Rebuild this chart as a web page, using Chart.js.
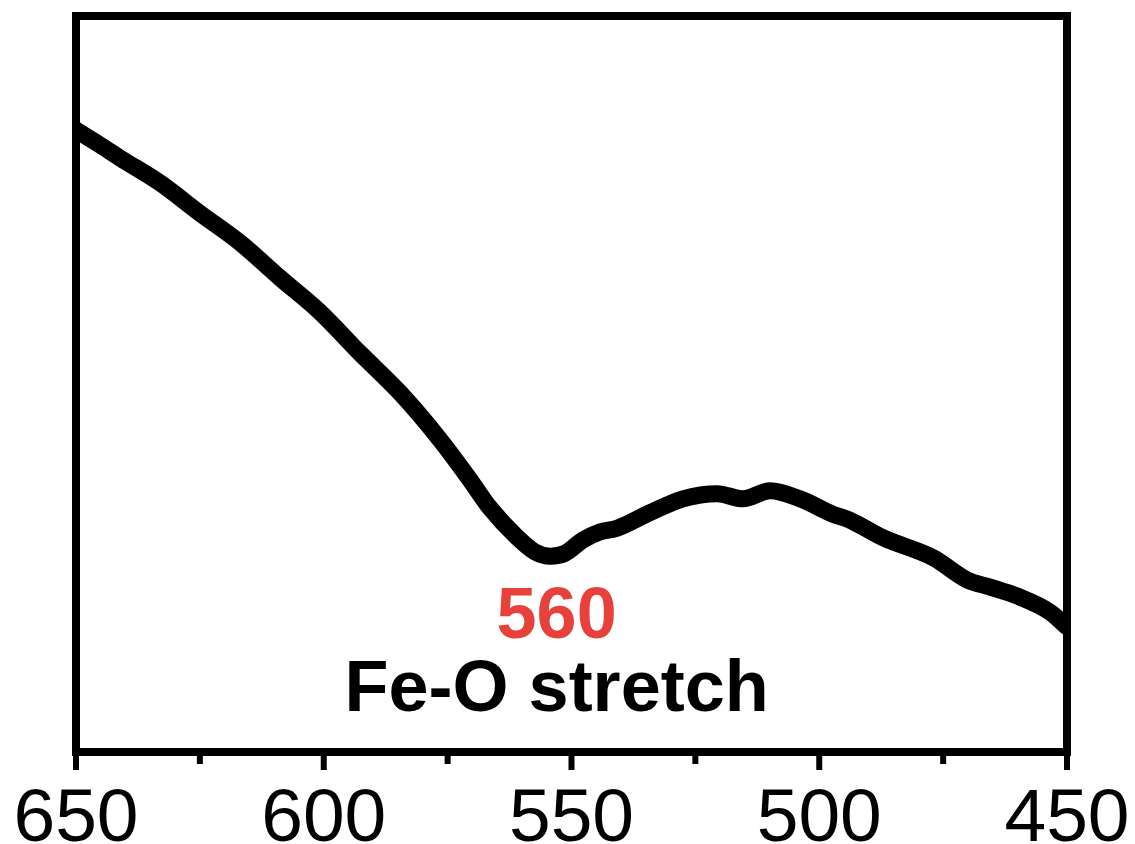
<!DOCTYPE html>
<html>
<head>
<meta charset="utf-8">
<script src="https://cdn.jsdelivr.net/npm/chart.js@4.4.0/dist/chart.umd.min.js"></script>
<style>
  html, body { margin: 0; padding: 0; background: #fff; }
  #wrap { width: 1135px; height: 844px; }
</style>
</head>
<body>
<div id="wrap"><canvas id="ftirChart"></canvas></div>
<script>
// wavenumber (cm-1) and transmittance (a.u.)
var wavenumber = [650, 645.2, 641.1, 633, 625, 616.9, 608.8, 600.8, 592.7, 584.6, 576.5, 570.5, 566.5, 561, 557.4, 554.3, 551.3, 547.7, 544.3, 540.8, 534.2, 527.5, 520.6, 515.4, 509.9, 503.9, 497.2, 493.8, 487.1, 477, 470.2, 465.5, 460.1, 453.4, 450];
var transmittance = [84.5, 82.5, 80.7, 77.3, 73.2, 69.2, 64.4, 59.8, 54.2, 48.8, 42.4, 37.0, 33.2, 29.2, 27.2, 26.6, 27.0, 28.8, 29.9, 30.4, 32.5, 34.4, 35.1, 34.4, 35.5, 34.4, 32.3, 31.5, 29.1, 26.4, 23.4, 22.4, 21.2, 19.0, 17.0];
var xTicks = [650, 600, 550, 500, 450];
var minorTicks = [625, 575, 525, 475];
var peakLabel = "560";
var bandLabel = "Fe-O stretch";

var points = wavenumber.map(function(w, i){ return {x: w, y: transmittance[i]}; });

// frame around the plot area plus major/minor ticks under it
var framePlugin = {
  id: 'frame',
  afterDatasetsDraw: function(chart){
    var ctx = chart.ctx;
    var a = chart.chartArea;
    var xs = chart.scales.x;
    ctx.save();
    ctx.strokeStyle = '#000';
    ctx.lineWidth = 8;
    ctx.lineJoin = 'miter';
    ctx.strokeRect(a.left, a.top, a.right - a.left, a.bottom - a.top);
    ctx.lineWidth = 6;
    xTicks.forEach(function(v){
      var px = xs.getPixelForValue(v);
      ctx.beginPath(); ctx.moveTo(px, a.bottom); ctx.lineTo(px, a.bottom + 18); ctx.stroke();
    });
    minorTicks.forEach(function(v){
      var px = xs.getPixelForValue(v);
      ctx.beginPath(); ctx.moveTo(px, a.bottom); ctx.lineTo(px, a.bottom + 12); ctx.stroke();
    });

    // band annotation under the minimum
    var cx = xs.getPixelForValue(553);
    var ys = chart.scales.y;
    ctx.textAlign = 'center';
    ctx.textBaseline = 'alphabetic';
    ctx.font = 'bold 72px "Liberation Sans", Arial, sans-serif';
    ctx.fillStyle = '#e8413b';
    ctx.fillText(peakLabel, cx, ys.getPixelForValue(15.5));
    ctx.fillStyle = '#000';
    ctx.fillText(bandLabel, cx, ys.getPixelForValue(5.6));
    ctx.restore();
  }
};

var ctx = document.getElementById('ftirChart').getContext('2d');
var ftirChart = new Chart(ctx, {
  type: 'line',
  data: {
    datasets: [{
      data: points,
      borderColor: '#000',
      borderWidth: 17,
      borderJoinStyle: 'round',
      borderCapStyle: 'round',
      pointRadius: 0,
      fill: false,
      cubicInterpolationMode: 'monotone'
    }]
  },
  options: {
    responsive: true,
    maintainAspectRatio: false,
    animation: false,
    layout: {padding: {left: 76, right: 68, top: 16, bottom: 0}},
    plugins: {legend: {display: false}, tooltip: {enabled: false}},
    scales: {
      x: {
        type: 'linear',
        reverse: true,
        min: 450,
        max: 650,
        afterBuildTicks: function(scale){
          scale.ticks = xTicks.map(function(v){ return {value: v}; });
        },
        afterFit: function(scale){
          scale.height = 92;
          scale.paddingLeft = 0;
          scale.paddingRight = 0;
        },
        grid: {display: false, drawTicks: false},
        border: {display: false},
        ticks: {
          color: '#000',
          padding: 23,
          maxRotation: 0,
          autoSkip: false,
          font: {family: '"Liberation Sans", Arial, sans-serif', size: 75}
        }
      },
      y: {
        display: false,
        min: 0,
        max: 100
      }
    }
  },
  plugins: [framePlugin]
});
</script>
</body>
</html>
